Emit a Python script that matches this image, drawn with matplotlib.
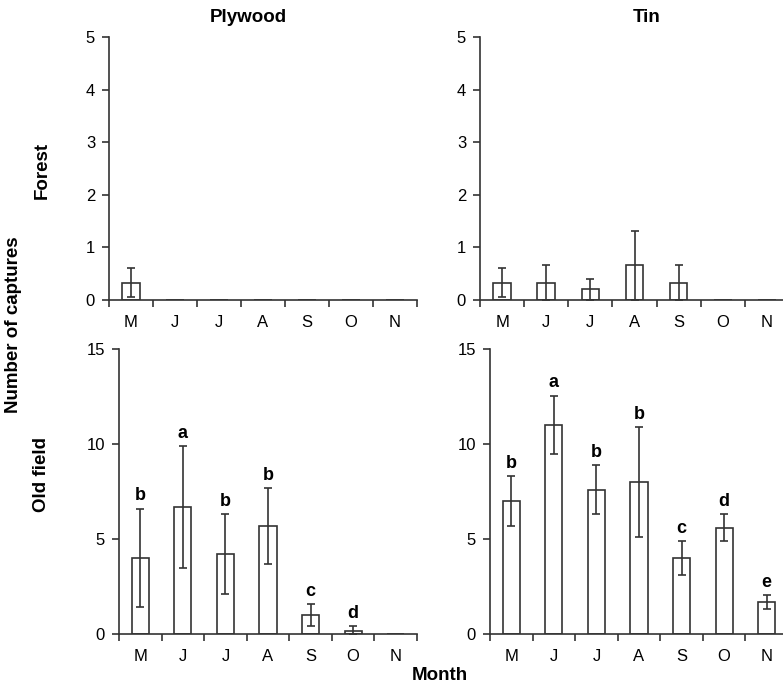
import matplotlib
matplotlib.use("Agg")
import matplotlib.pyplot as plt
import numpy as np

plt.rcParams['font.family'] = ['Liberation Sans', 'DejaVu Sans']

months = ["M", "J", "J", "A", "S", "O", "N"]

ply_forest = [0.33, 0, 0, 0, 0, 0, 0]
ply_forest_err = [0.28, 0, 0, 0, 0, 0, 0]
tin_forest = [0.33, 0.33, 0.2, 0.66, 0.33, 0, 0]
tin_forest_err = [0.28, 0.33, 0.2, 0.66, 0.33, 0, 0]

ply_old = [4.0, 6.7, 4.2, 5.7, 1.0, 0.18, 0]
ply_old_err = [2.6, 3.2, 2.1, 2.0, 0.57, 0.22, 0]
ply_old_letters = ["b", "a", "b", "b", "c", "d", ""]

tin_old = [7.0, 11.0, 7.6, 8.0, 4.0, 5.6, 1.7]
tin_old_err = [1.3, 1.55, 1.27, 2.9, 0.88, 0.7, 0.37]
tin_old_letters = ["b", "a", "b", "b", "c", "d", "e"]

W, H = 783, 686
fig = plt.figure(figsize=(W / 100, H / 100), dpi=100)

def rect(x0, x1, ytop, ybot):
    return [x0 / W, 1 - ybot / H, (x1 - x0) / W, (ybot - ytop) / H]

panels = [
    (rect(109, 417, 37, 300), ply_forest, ply_forest_err, None, 5, [0, 1, 2, 3, 4, 5]),
    (rect(480, 789, 37, 300), tin_forest, tin_forest_err, None, 5, [0, 1, 2, 3, 4, 5]),
    (rect(119, 417, 349, 634), ply_old, ply_old_err, ply_old_letters, 15, [0, 5, 10, 15]),
    (rect(490, 788, 349, 634), tin_old, tin_old_err, tin_old_letters, 15, [0, 5, 10, 15]),
]

lc = "#333333"
for pos, vals, errs, letters, ymax, yt in panels:
    ax = fig.add_axes(pos)
    x = np.arange(len(months)) + 0.5
    ax.bar(x, vals, width=0.4, color="white", edgecolor=lc, linewidth=1.2, zorder=2)
    for xi, v, e in zip(x, vals, errs):
        if e > 0:
            ax.errorbar([xi], [v], yerr=[[min(e, v)], [e]], fmt="none", ecolor=lc,
                        elinewidth=1.2, capsize=2.7, capthick=1.2, zorder=3)
    if letters:
        for xi, v, e, t in zip(x, vals, errs, letters):
            if t:
                ax.annotate(t, (xi, v + e), xytext=(0, 3), textcoords="offset points",
                            ha="center", va="bottom", fontsize=13, fontweight="bold")
    ax.set_xlim(0, 7)
    ax.set_ylim(0, ymax)
    ax.set_yticks(yt)
    ax.set_xticks(x)
    ax.set_xticklabels(months, fontsize=12)
    ax.set_xticks(np.arange(0, 8), minor=True)
    ax.tick_params(axis="x", which="major", length=0, pad=11)
    ax.tick_params(axis="x", which="minor", length=5, width=1.2, color=lc, direction="out")
    ax.tick_params(axis="y", length=5, width=1.2, color=lc, labelsize=12, pad=5)
    for s in ["top", "right"]:
        ax.spines[s].set_visible(False)
    for s in ["left", "bottom"]:
        ax.spines[s].set_color(lc)
        ax.spines[s].set_linewidth(1.2)

fs = 13.5
fig.text(248 / W, 1 - 18 / H, "Plywood", ha="center", va="center", fontsize=fs, fontweight="bold")
fig.text(647 / W, 1 - 18 / H, "Tin", ha="center", va="center", fontsize=fs, fontweight="bold")
fig.text(42 / W, 1 - 170 / H, "Forest", ha="center", va="center", rotation=90, fontsize=fs, fontweight="bold")
fig.text(42 / W, 1 - 475 / H, "Old field", ha="center", va="center", rotation=90, fontsize=fs, fontweight="bold")
fig.text(14 / W, 1 - 325 / H, "Number of captures", ha="center", va="center", rotation=90, fontsize=fs, fontweight="bold")
fig.text(440 / W, 1 - 675 / H, "Month", ha="center", va="center", fontsize=fs, fontweight="bold")

fig.savefig("out.png", dpi=100)
